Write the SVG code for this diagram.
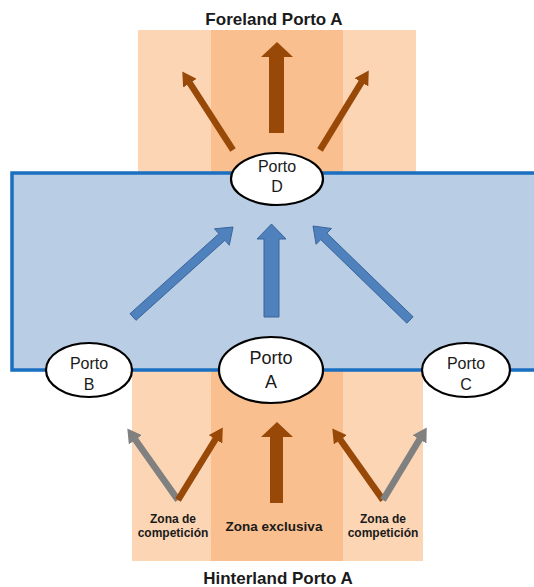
<svg xmlns="http://www.w3.org/2000/svg" width="534" height="587" viewBox="0 0 534 587">
<style>
.band-l{fill:#fcd5b5}
.band-d{fill:#f9bf8f}
.sea{fill:#b9cde5;stroke:#1a6fc0;stroke-width:3.5}
.port{fill:#ffffff;stroke:#000000;stroke-width:2.2}
.t{font-family:"Liberation Sans",Arial,sans-serif;fill:#1a1a1a;text-anchor:middle}
.pt{font-size:16px}
.pa{font-size:18px}
.b{font-weight:bold}
.brown{stroke:#984807;stroke-width:6.5;fill:none}
.gray{stroke:#808080;stroke-width:6.5;fill:none}
.fb{fill:#984807}
.blue{fill:#4f81bd;stroke:#3a659a;stroke-width:1}
</style>
<defs>
<marker id="hb" markerUnits="userSpaceOnUse" viewBox="0 0 14 16" markerWidth="14" markerHeight="16" refX="0.5" refY="8" orient="auto"><path d="M0,0 L14,8 L0,16 z" fill="#984807"/></marker>
<marker id="hg" markerUnits="userSpaceOnUse" viewBox="0 0 14 16" markerWidth="14" markerHeight="16" refX="0.5" refY="8" orient="auto"><path d="M0,0 L14,8 L0,16 z" fill="#808080"/></marker>
</defs>
<g id="bands">
<rect class="band-l" x="138" y="30" width="278" height="150"/>
<rect class="band-d" x="211" y="30" width="132" height="150"/>
<rect class="band-l" x="132" y="365" width="291" height="196"/>
<rect class="band-d" x="211" y="365" width="132" height="196"/>
</g>
<g id="sea">
<rect class="sea" x="12" y="173" width="530" height="197"/>
</g>
<g id="connectors">
<line class="brown" x1="233" y1="150" x2="189.6" y2="82.8" marker-end="url(#hb)"/>
<line class="brown" x1="320" y1="150" x2="361.7" y2="81.9" marker-end="url(#hb)"/>
<polygon class="fb" points="269,133 269,57 261,57 277,42 293,57 284,57 284,133"/>
<polygon class="blue" points="136.0,320.3 224.9,240.3 229.3,245.2 233,227 214.5,228.8 218.9,233.7 130.0,313.7"/>
<polygon class="blue" points="264,317 264,239 257,239 271.5,224 286,239 279,239 279,317"/>
<polygon class="blue" points="413.1,316.8 326.9,233.2 331.5,228.5 313,226 316.1,244.3 320.7,239.6 406.9,323.2"/>
<line class="gray" x1="178" y1="500" x2="135.1" y2="439.4" marker-end="url(#hg)"/>
<line class="brown" x1="178" y1="500" x2="215.7" y2="438.9" marker-end="url(#hb)"/>
<polygon class="fb" points="270,503 270,437 261,437 277,422 293,437 283,437 283,503"/>
<line class="brown" x1="383" y1="500" x2="340.1" y2="439.4" marker-end="url(#hb)"/>
<line class="gray" x1="383" y1="500" x2="419.8" y2="439" marker-end="url(#hg)"/>
</g>
<g id="porto-d">
<ellipse class="port" cx="277" cy="179" rx="46" ry="26"/>
<text class="t pt" x="277" y="172">Porto</text>
<text class="t pt" x="277" y="192">D</text>
</g>
<g id="porto-b">
<ellipse class="port" cx="89" cy="370" rx="43" ry="27"/>
<text class="t pt" x="89" y="369">Porto</text>
<text class="t pt" x="89" y="390">B</text>
</g>
<g id="porto-c">
<ellipse class="port" cx="466" cy="370" rx="44" ry="27"/>
<text class="t pt" x="466" y="369">Porto</text>
<text class="t pt" x="466" y="390">C</text>
</g>
<g id="porto-a">
<ellipse class="port" cx="271" cy="370" rx="52" ry="33"/>
<text class="t pa" x="271" y="364">Porto</text>
<text class="t pa" x="271" y="388">A</text>
</g>
<g id="labels">
<text class="t b" x="274" y="25" font-size="17">Foreland Porto A</text>
<text class="t b" x="173" y="523" font-size="12">Zona de</text>
<text class="t b" x="173" y="537" font-size="12">competición</text>
<text class="t b" x="274" y="531" font-size="13.5">Zona exclusiva</text>
<text class="t b" x="383" y="523" font-size="12">Zona de</text>
<text class="t b" x="383" y="537" font-size="12">competición</text>
<text class="t b" x="278" y="584" font-size="17">Hinterland Porto A</text>
</g>
</svg>
